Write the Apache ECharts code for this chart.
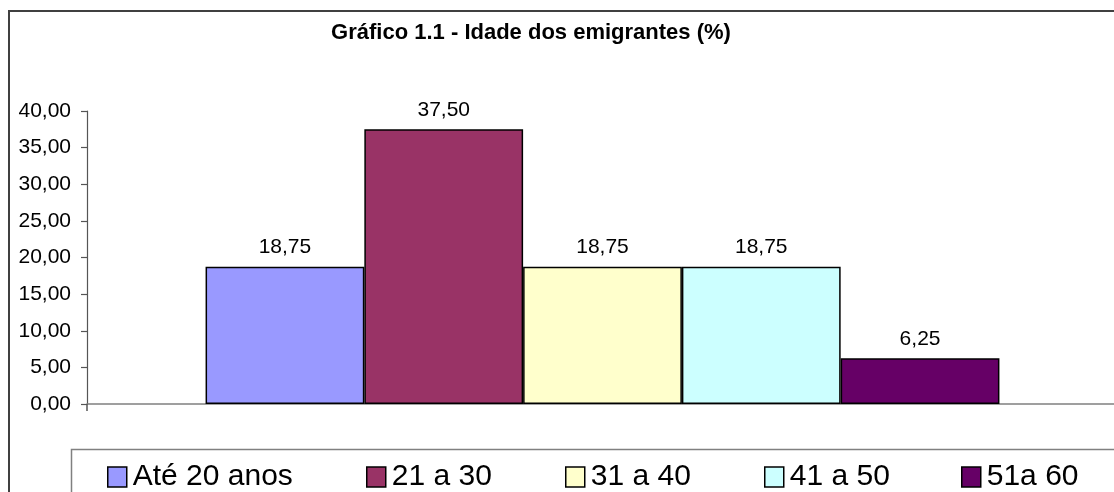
<!DOCTYPE html>
<html>
<head>
<meta charset="utf-8">
<script src="https://cdn.jsdelivr.net/npm/echarts@6/dist/echarts.min.js"></script>
<style>
html,body{margin:0;padding:0;background:#fff;overflow:hidden;}
#main{width:1120px;height:492px;}
</style>
</head>
<body>
<div id="main"></div>
<script>
var titleText = 'Gráfico 1.1 - Idade dos emigrantes (%)';
var categories = [''];
var seriesNames = ['Até 20 anos', '21 a 30', '31 a 40', '41 a 50', '51a 60'];
var seriesValues = [18.75, 37.50, 18.75, 18.75, 6.25];
var seriesColors = ['#9999FF', '#993366', '#FFFFCC', '#CCFFFF', '#660066'];
var yTicks = {min: 0, max: 40, interval: 5};
var legendLefts = [107, 366, 565, 764, 961];

var FONT = '"Liberation Sans", Arial, sans-serif';
function fmt(v){ return Number(v).toFixed(2).replace('.', ','); }

var series = seriesNames.map(function(n, i){
  return {
    name: n,
    type: 'bar',
    data: [seriesValues[i]],
    barGap: '0%',
    barCategoryGap: '23%',
    itemStyle: {color: seriesColors[i], borderColor: '#000', borderWidth: 1.5},
    label: {
      show: true, position: 'top', distance: 9,
      formatter: function(p){ return fmt(p.value); },
      fontFamily: FONT, fontSize: 21, color: '#000'
    },
    emphasis: {disabled: true},
    silent: true
  };
});

var legends = seriesNames.map(function(n, i){
  return {
    data: [n], left: legendLefts[i], top: 462, padding: 0,
    icon: 'rect', itemWidth: 19, itemHeight: 20, itemGap: 6,
    selectedMode: false,
    itemStyle: {borderColor: '#000', borderWidth: 1.5},
    textStyle: {fontFamily: FONT, fontSize: 30, color: '#000', padding: [0,0,0,1]}
  };
});

var chart = echarts.init(document.getElementById('main'), null, {renderer: 'canvas'});
chart.setOption({
  animation: false,
  backgroundColor: '#fff',
  title: {
    text: titleText, left: 531, top: 22, textAlign: 'center', padding: 0,
    textStyle: {fontFamily: FONT, fontSize: 22, fontWeight: 'bold', color: '#000'}
  },
  graphic: [
    {type: 'rect', shape: {x: 9, y: 11, width: 1300, height: 700},
     style: {fill: 'none', stroke: '#404040', lineWidth: 2}, silent: true, z: 0},
    {type: 'rect', shape: {x: 71.5, y: 449.5, width: 1300, height: 200},
     style: {fill: 'none', stroke: '#808080', lineWidth: 1.5}, silent: true, z: 0}
  ],
  legend: legends,
  grid: {left: 87, top: 111, bottom: 88, width: 1031, containLabel: false},
  xAxis: {
    type: 'category', data: categories, boundaryGap: true,
    axisLine: {show: true, lineStyle: {color: '#808080', width: 1.5}},
    axisTick: {show: true, length: 7, lineStyle: {color: '#555', width: 1.5}},
    axisLabel: {show: false}
  },
  yAxis: {
    type: 'value', min: yTicks.min, max: yTicks.max, interval: yTicks.interval,
    axisLine: {show: true, lineStyle: {color: '#555', width: 1.2}},
    axisTick: {show: true, length: 6, lineStyle: {color: '#555', width: 1.2}},
    splitLine: {show: false},
    axisLabel: {
      margin: 16, fontFamily: FONT, fontSize: 21, color: '#000',
      formatter: function(v){ return fmt(v); }
    }
  },
  series: series
});
</script>
</body>
</html>
